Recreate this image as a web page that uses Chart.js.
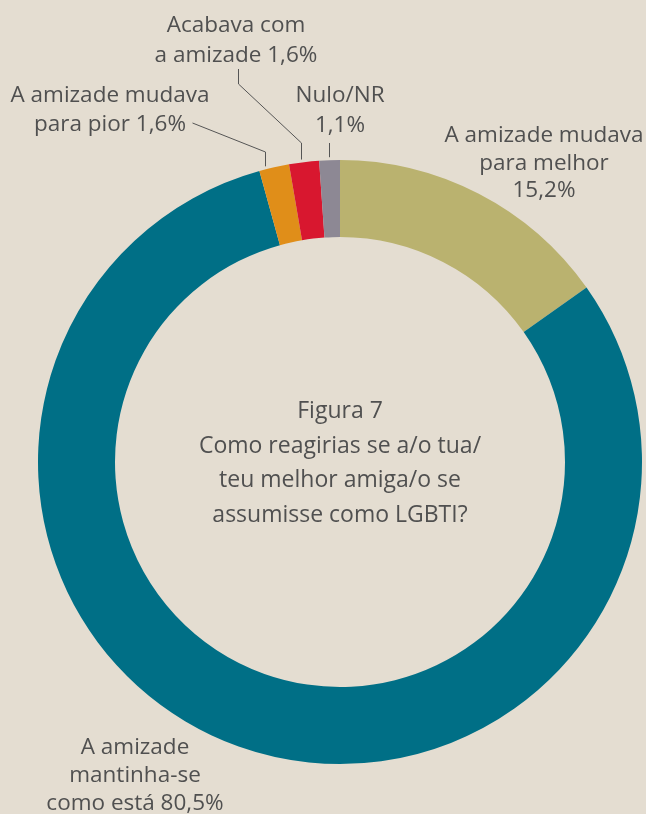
<!DOCTYPE html>
<html>
<head>
<meta charset="utf-8">
<script src="https://cdn.jsdelivr.net/npm/chart.js@4/dist/chart.umd.min.js"></script>
<style>
  html, body { margin: 0; padding: 0; background: #e4ddd1; }
  #wrap { width: 646px; height: 814px; }
</style>
</head>
<body>
<div id="wrap"><canvas id="c" width="646" height="814"></canvas></div>
<script>
// ---- data ----
const categories = [
  "A amizade mudava para melhor",
  "A amizade mantinha-se como está",
  "A amizade mudava para pior",
  "Acabava com a amizade",
  "Nulo/NR"
];
const values = [15.2, 80.5, 1.6, 1.6, 1.1];
const valueLabels = ["15,2%", "80,5%", "1,6%", "1,6%", "1,1%"];
const labelLines = [
  ["A amizade mudava", "para melhor", "15,2%"],
  ["A amizade", "mantinha-se", "como está 80,5%"],
  ["A amizade mudava", "para pior 1,6%"],
  ["Acabava com", "a amizade 1,6%"],
  ["Nulo/NR", "1,1%"]
];
const centerTitle = ["Figura 7", "Como reagirias se a/o tua/", "teu melhor amiga/o se", "assumisse como LGBTI?"];
const colors = ["#bab26f", "#006f86", "#e08e19", "#d8172f", "#8d8894"];

// ---- label layout (offsets from doughnut centre) ----
const labelLayout = [
  { dx: 204, base: [-320, -292, -265] },
  { dx: -205, base: [292, 320, 348] },
  { dx: -230, base: [-360, -331], leader: { f: 0.22, elbowDy: -310, end: [-148, -339] } },
  { dx: -104, base: [-430, -400], leader: { f: 0.40, elbowDy: -319, end: [-102, -378], endUp: [-102, -393] } },
  { dx: 0, base: [-360, -330], leader: { f: 0.47, elbowDy: -319, end: null } }
];

const TEXT = "#505050";

const labelPlugin = {
  id: 'labelPlugin',
  afterDraw(chart) {
    const ctx = chart.ctx;
    const meta = chart.getDatasetMeta(0);
    const a0 = meta.data[0];
    const cx = a0.x, cy = a0.y, R = a0.outerRadius;
    ctx.save();
    // centre text
    ctx.fillStyle = TEXT;
    ctx.textAlign = 'center';
    ctx.textBaseline = 'alphabetic';
    ctx.font = '23px "Open Sans"';
    centerTitle.forEach((t, i) => ctx.fillText(t, cx, cy - 44 + i * 34.7));
    // labels
    ctx.font = '22.5px "Open Sans"';
    labelLines.forEach((lines, i) => {
      const L = labelLayout[i];
      lines.forEach((t, j) => ctx.fillText(t, cx + L.dx, cy + L.base[j]));
    });
    // leaders
    ctx.strokeStyle = "#555555";
    ctx.lineWidth = 1;
    labelLayout.forEach((L, i) => {
      if (!L.leader) return;
      const arc = meta.data[i];
      const ang = arc.startAngle + L.leader.f * (arc.endAngle - arc.startAngle);
      const px = cx + (R + 3) * Math.cos(ang);
      const py = cy + (R + 3) * Math.sin(ang);
      const x = Math.round(px) + 0.5;
      ctx.beginPath();
      ctx.moveTo(x, py);
      ctx.lineTo(x, cy + L.leader.elbowDy);
      if (L.leader.end) ctx.lineTo(cx + L.leader.end[0] + 0.5, cy + L.leader.end[1]);
      if (L.leader.endUp) ctx.lineTo(cx + L.leader.endUp[0] + 0.5, cy + L.leader.endUp[1]);
      ctx.stroke();
    });
    ctx.restore();
  }
};

new Chart(document.getElementById('c'), {
  type: 'doughnut',
  data: {
    labels: categories,
    datasets: [{
      data: values,
      backgroundColor: colors,
      borderWidth: 0,
      hoverOffset: 0,
      offset: 0
    }]
  },
  options: {
    responsive: false,
    animation: false,
    cutout: 225,
    rotation: 0,
    layout: { padding: { left: 38, right: 4, top: 160, bottom: 50 } },
    plugins: {
      legend: { display: false },
      tooltip: { enabled: false }
    }
  },
  plugins: [labelPlugin]
});
</script>
</body>
</html>
